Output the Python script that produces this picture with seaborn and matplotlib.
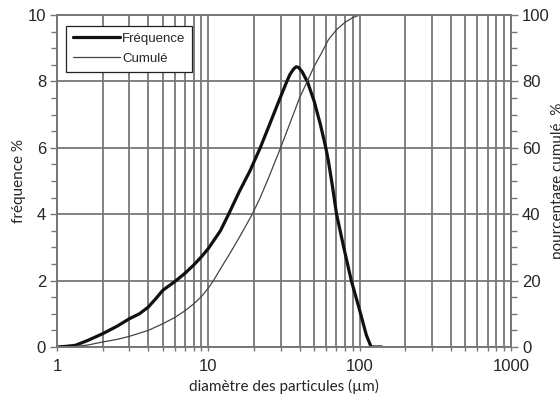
import numpy as np
import pandas as pd
import matplotlib
matplotlib.use("Agg")
import matplotlib.pyplot as plt
import seaborn as sns
from matplotlib.ticker import FixedLocator, FuncFormatter, MultipleLocator
from matplotlib.lines import Line2D

# fréquence (%) en fonction du diamètre (µm)
freq_diam = [1.0, 1.15, 1.32, 1.6, 2.0, 2.5, 3.0, 3.5, 4.0, 4.5, 5.0, 6.0, 7.0, 8.0, 9.0,
             10.0, 12.0, 13.6, 16.0, 18.8, 22.0, 25.0, 29.0, 33.0, 34.5, 36.5, 38.0, 39.5,
             41.5, 43.0, 45.2, 50.0, 55.0, 59.7, 62.0, 66.0, 70.3, 78.0, 88.0, 100.0,
             110.6, 119.0, 140.0]
freq_val = [0.0, 0.02, 0.05, 0.2, 0.4, 0.63, 0.85, 1.0, 1.2, 1.46, 1.71, 1.97, 2.22, 2.47,
            2.72, 2.97, 3.5, 4.0, 4.68, 5.3, 6.0, 6.63, 7.37, 8.0, 8.2, 8.37, 8.44, 8.42,
            8.3, 8.17, 7.98, 7.4, 6.7, 6.0, 5.62, 4.85, 4.0, 3.05, 2.0, 1.1, 0.36, 0.0, 0.0]

# pourcentage cumulé
cum_diam = [1.0, 1.3, 1.6, 2.0, 2.5, 3.0, 4.0, 5.0, 6.0, 7.0, 8.0, 9.0, 10.0, 10.8, 12.0,
            14.0, 16.0, 19.5, 22.0, 25.0, 30.0, 35.0, 40.0, 45.0, 50.0, 56.6, 62.0, 70.0,
            80.0, 90.0, 100.0]
cum_val = [0.0, 0.1, 0.6, 1.5, 2.3, 3.2, 5.0, 7.0, 8.9, 10.9, 13.0, 15.2, 17.8, 20.0, 23.5,
           28.5, 33.0, 40.0, 45.0, 51.0, 60.0, 68.0, 75.0, 80.0, 84.5, 89.0, 92.5, 95.5,
           97.8, 99.2, 100.0]

x_ticks = [1, 10, 100, 1000]

sns.set_style("white")
plt.rcParams['font.family'] = ['Liberation Sans', 'DejaVu Sans']

grid_col = '#777777'

fig = plt.figure(figsize=(5.6, 4.01), dpi=100)
ax = fig.add_axes([0.102, 0.1347, 0.8105, 0.8279])
ax2 = ax.twinx()

df_f = pd.DataFrame({'d': freq_diam, 'f': freq_val})
df_c = pd.DataFrame({'d': cum_diam, 'c': cum_val})

sns.lineplot(data=df_f, x='d', y='f', ax=ax, color='#111111', lw=2.3, legend=False)
sns.lineplot(data=df_c, x='d', y='c', ax=ax2, color='#444444', lw=0.9, legend=False)

ax.set_xscale('log')
ax.set_xlim(1, 1000)
ax.set_ylim(0, 10)
ax2.set_ylim(0, 100)

# grille
minor = [m * 10 ** e for e in range(0, 3) for m in range(2, 10)]
ax.xaxis.set_major_locator(FixedLocator(x_ticks))
ax.xaxis.set_minor_locator(FixedLocator(minor))
ax.xaxis.set_major_formatter(FuncFormatter(lambda v, p: f"{int(v)}"))
ax.xaxis.set_minor_formatter(FuncFormatter(lambda v, p: ""))
ax.yaxis.set_major_locator(MultipleLocator(2))
ax.yaxis.set_minor_locator(MultipleLocator(0.5))
ax2.yaxis.set_major_locator(MultipleLocator(20))
ax2.yaxis.set_minor_locator(MultipleLocator(5))

ax.grid(True, which='major', axis='both', color=grid_col, lw=1.3)
ax.grid(True, which='minor', axis='x', color=grid_col, lw=1.3)
ax.set_axisbelow(True)

for a in (ax, ax2):
    for s in a.spines.values():
        s.set_color(grid_col)
        s.set_linewidth(1.3)

ax.tick_params(axis='y', which='major', direction='out', length=5, width=1, color=grid_col,
               labelsize=12, pad=3, left=True)
ax.tick_params(axis='y', which='minor', direction='out', length=4, width=1, color=grid_col, left=True)
ax.tick_params(axis='x', which='both', direction='out', length=3, width=1, color=grid_col,
               labelsize=12, pad=6, bottom=True)
ax2.tick_params(axis='y', which='major', direction='out', length=5, width=1, color=grid_col,
                labelsize=12, pad=3, right=True)
ax2.tick_params(axis='y', which='minor', direction='out', length=4, width=1, color=grid_col, right=True)

lab_font = ['Lato', 'DejaVu Sans']
ax.set_xlabel('diamètre des particules (µm)', fontsize=11, family=lab_font, labelpad=3)
ax.set_ylabel('fréquence %', fontsize=11, family=lab_font, labelpad=1)
ax2.set_ylabel('pourcentage cumulé  %', fontsize=11, family=lab_font, labelpad=1)

handles = [Line2D([], [], color='#111111', lw=2.3), Line2D([], [], color='#444444', lw=0.9)]
leg = ax2.legend(handles, ['Fréquence', 'Cumulé'], loc='upper left',
                 bbox_to_anchor=(0.02, 0.967), borderaxespad=0, fontsize=9.5,
                 handlelength=3.6, handletextpad=0.15, fancybox=False,
                 framealpha=1, edgecolor='#222222', borderpad=0.5, labelspacing=0.6)
leg.get_frame().set_linewidth(0.9)

fig.savefig('out.png', dpi=100)
